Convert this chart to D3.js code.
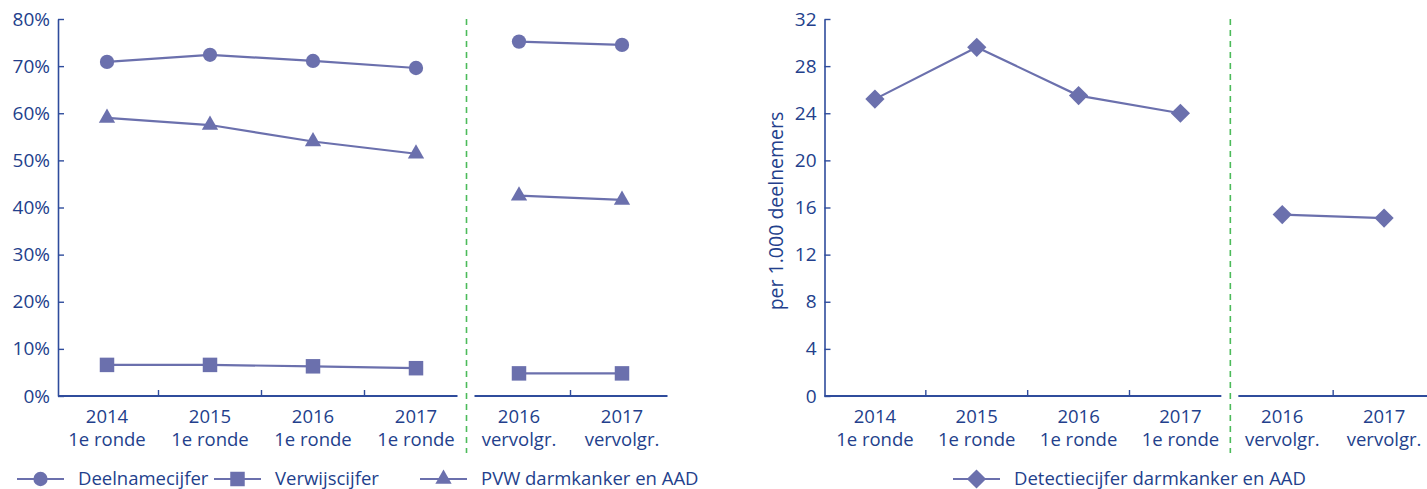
<!DOCTYPE html>
<html>
<head>
<meta charset="utf-8">
<script src="https://cdn.jsdelivr.net/npm/d3@7"></script>
<style>
  body { margin: 0; background: #fff; }
  svg { display: block; font-family: "Open Sans", sans-serif; }
</style>
</head>
<body>
<div id="chart"></div>
<script>
// categories
const years = ["2014", "2015", "2016", "2017", "2016", "2017"];
const rounds = ["1e ronde", "1e ronde", "1e ronde", "1e ronde", "vervolgr.", "vervolgr."];

// series values (percent)
const deelnamecijfer = [70.9, 72.4, 71.1, 69.6, 75.2, 74.5];
const verwijscijfer = [6.6, 6.6, 6.3, 5.9, 4.8, 4.8];
const pvwDarmkanker = [59.0, 57.5, 54.0, 51.4, 42.5, 41.6];

// detection rate per 1.000 participants
const detectiecijfer = [25.2, 29.6, 25.5, 24.0, 15.4, 15.1];

// tick labels
const pctTicks = [0, 10, 20, 30, 40, 50, 60, 70, 80];
const rateTicks = [0, 4, 8, 12, 16, 20, 24, 28, 32];

const W = 1427, H = 489;
const markColor = "#6b70ad";
const textColor = "#233f8c";
const axisColor = "#2f4c9c";
const sepColor = "#4cbb5a";

const svg = d3.select("#chart").append("svg")
    .attr("width", W)
    .attr("height", H);

// shape helpers
const shapes = {
    circle: d3.symbol(d3.symbolCircle, 160),
    square: d3.symbol(d3.symbolSquare, 210),
    triangle: d3.symbol(d3.symbolTriangle, 115),
    diamond: d3.symbol(d3.symbolSquare, 185)
};
const shapeRotate = { circle: 0, square: 0, triangle: 0, diamond: 45 };

function panel(opts) {
    const g = svg.append("g");
    const idx = d3.range(years.length);

    const x = d3.scaleBand()
        .domain(idx)
        .range(opts.xRange)
        .paddingInner(0)
        .paddingOuter(0);

    const y = d3.scaleLinear()
        .domain([0, d3.max(opts.ticks)])
        .range([396, 19]);

    // y axis
    g.append("g")
        .attr("transform", `translate(${opts.axisX},0)`)
        .call(d3.axisLeft(y)
            .tickValues(opts.ticks)
            .tickSize(-6)
            .tickSizeOuter(0)
            .tickPadding(8)
            .tickFormat(opts.fmt))
        .call(a => a.select(".domain").attr("stroke", axisColor).attr("stroke-width", 1.6))
        .call(a => a.selectAll(".tick line").attr("stroke", axisColor).attr("stroke-width", 1.4))
        .call(a => a.selectAll(".tick text")
            .attr("fill", textColor)
            .style("font-size", "19px")
            .style("font-family", "'Open Sans', sans-serif"));

    // separator between 1e ronde and vervolgronde
    const sepX = x(4) - 1;
    g.append("line")
        .attr("x1", sepX).attr("x2", sepX)
        .attr("y1", 19).attr("y2", 453)
        .attr("stroke", sepColor)
        .attr("stroke-width", 1.6)
        .attr("stroke-dasharray", "6,5");

    // x axis base lines (broken at the separator)
    const baseY = y(0);
    const segs = [[opts.axisX, sepX - 9], [sepX + 8, x.range()[1] - 6]];
    g.selectAll("line.base")
        .data(segs)
        .join("line")
        .attr("class", "base")
        .attr("x1", d => d[0]).attr("x2", d => d[1])
        .attr("y1", baseY).attr("y2", baseY)
        .attr("stroke", axisColor)
        .attr("stroke-width", 1.8);

    // x ticks at category boundaries
    g.selectAll("line.xtick")
        .data([0, 1, 2, 4])
        .join("line")
        .attr("class", "xtick")
        .attr("x1", d => x(d) + x.bandwidth()).attr("x2", d => x(d) + x.bandwidth())
        .attr("y1", baseY).attr("y2", baseY - 6)
        .attr("stroke", axisColor)
        .attr("stroke-width", 1.4);

    // x labels, two lines
    [[years, 423], [rounds, 446]].forEach(([labels, yy]) => {
        g.selectAll(null)
            .data(idx)
            .join("text")
            .attr("x", d => x(d) + x.bandwidth() / 2)
            .attr("y", yy)
            .attr("text-anchor", "middle")
            .attr("fill", textColor)
            .style("font-size", "18.5px")
            .text(d => labels[d]);
    });

    // series
    const line = d3.line()
        .x(d => x(d.i) + x.bandwidth() / 2)
        .y(d => y(d.v));

    opts.series.forEach(s => {
        const pts = s.values.map((v, i) => ({ i, v }));
        const groups = [pts.slice(0, 4), pts.slice(4)];
        g.selectAll(null)
            .data(groups)
            .join("path")
            .attr("d", line)
            .attr("fill", "none")
            .attr("stroke", markColor)
            .attr("stroke-width", 2.2);
        g.selectAll(null)
            .data(pts)
            .join("path")
            .attr("d", shapes[s.shape])
            .attr("transform", d => `translate(${x(d.i) + x.bandwidth() / 2},${y(d.v)}) rotate(${shapeRotate[s.shape]})`)
            .attr("fill", markColor);
    });

    // legend
    const leg = g.selectAll("g.leg")
        .data(opts.series)
        .join("g")
        .attr("class", "leg")
        .attr("transform", (d, i) => `translate(${opts.legendX[i]},479)`);
    leg.append("line")
        .attr("x1", 0).attr("x2", 47)
        .attr("stroke", markColor)
        .attr("stroke-width", 2.2);
    leg.append("path")
        .attr("d", d => shapes[d.shape]())
        .attr("transform", d => `translate(23.5,0) rotate(${shapeRotate[d.shape]})`)
        .attr("fill", markColor);
    leg.append("text")
        .attr("x", 61)
        .attr("dy", "0.35em")
        .attr("fill", textColor)
        .style("font-size", "18.5px")
        .text(d => d.name);

    return { g, x, y };
}

panel({
    xRange: [55.5, 673.5],
    axisX: 58,
    ticks: pctTicks,
    fmt: d => d + "%",
    series: [
        { name: "Deelnamecijfer", values: deelnamecijfer, shape: "circle" },
        { name: "Verwijscijfer", values: verwijscijfer, shape: "square" },
        { name: "PVW darmkanker en AAD", values: pvwDarmkanker, shape: "triangle" }
    ],
    legendX: [17, 214, 420]
});

const right = panel({
    xRange: [824, 1435],
    axisX: 824.5,
    ticks: rateTicks,
    fmt: d3.format("d"),
    series: [
        { name: "Detectiecijfer darmkanker en AAD", values: detectiecijfer, shape: "diamond" }
    ],
    legendX: [953]
});

// y axis title for the right chart
right.g.append("text")
    .attr("transform", `translate(783,211) rotate(-90)`)
    .attr("text-anchor", "middle")
    .attr("fill", textColor)
    .style("font-size", "19.5px")
    .text("per 1.000 deelnemers");
</script>
</body>
</html>
